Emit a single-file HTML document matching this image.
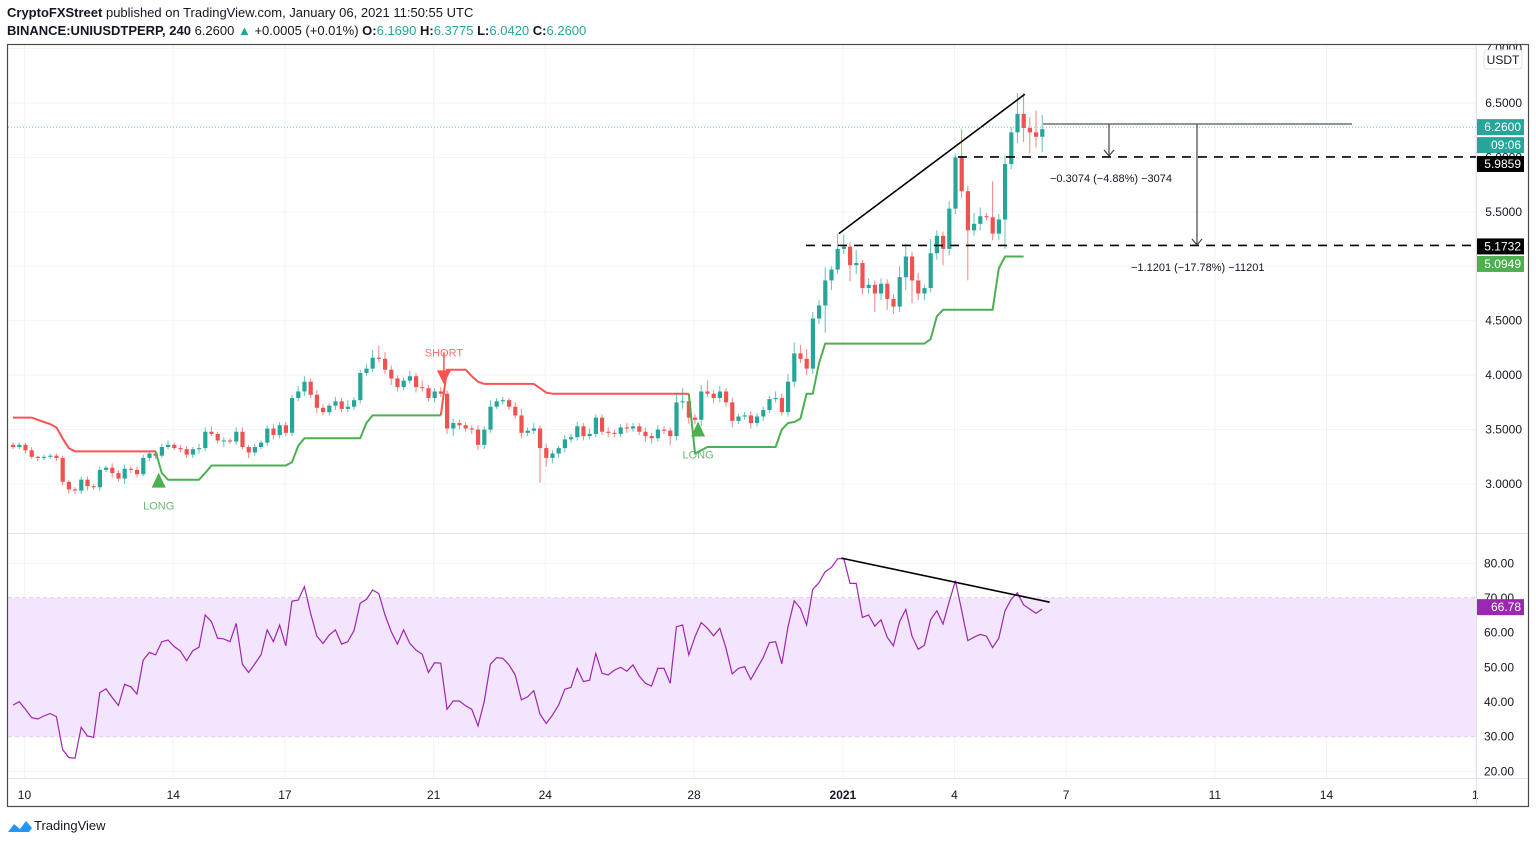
<!DOCTYPE html>
<html><head><meta charset="utf-8">
<style>
html,body{margin:0;padding:0;background:#fff;}
body{width:1536px;height:844px;overflow:hidden;font-family:"Liberation Sans",sans-serif;}
svg text{font-family:"Liberation Sans",sans-serif;}
</style></head>
<body>
<svg id="chart" width="1536" height="844" viewBox="0 0 1536 844" xmlns="http://www.w3.org/2000/svg">
  <text x="7" y="17" font-size="13" fill="#131722"><tspan font-weight="bold">CryptoFXStreet</tspan> published on TradingView.com, January 06, 2021 11:50:55 UTC</text>
  <text x="7" y="35" font-size="13" fill="#131722"><tspan font-weight="bold">BINANCE:UNIUSDTPERP, 240</tspan> 6.2600 <tspan fill="#26a69a">▲</tspan> +0.0005 (+0.01%) <tspan font-weight="bold">O:</tspan><tspan fill="#26a69a">6.1690</tspan> <tspan font-weight="bold">H:</tspan><tspan fill="#26a69a">6.3775</tspan> <tspan font-weight="bold">L:</tspan><tspan fill="#26a69a">6.0420</tspan> <tspan font-weight="bold">C:</tspan><tspan fill="#26a69a">6.2600</tspan></text>
  <g id="grid"></g>
  <rect id="rsiband" x="8" y="0" width="1468" height="0" fill="#f3e5fd"></rect>
  <g id="marks"></g>
  <g id="axes"></g>
  <rect x="7.5" y="44.5" width="1521" height="762" fill="none" stroke="#4a4a4a" stroke-width="1.2"></rect>
  <line x1="8" y1="533.5" x2="1528" y2="533.5" stroke="#e0e3eb"></line>
  <line x1="8" y1="778.5" x2="1528" y2="778.5" stroke="#e0e3eb"></line>
  <line x1="1476.5" y1="45" x2="1476.5" y2="806" stroke="#e0e3eb"></line>
  <g>
    <path d="M8 832 L14 824 L20 829 L26 821 L32 828 L29 832 Z" fill="#2196f3"></path>
    <text x="34" y="830" font-size="13" fill="#131722">TradingView</text>
  </g>
</svg>
<script>
// ---------- data ----------
const closes = [3.34,3.36,3.31,3.25,3.24,3.25,3.26,3.24,3.02,2.95,
2.94,3.04,2.98,2.97,3.13,3.15,3.10,3.05,3.14,3.13,
3.09,3.24,3.28,3.26,3.34,3.36,3.33,3.32,3.27,3.32,
3.33,3.48,3.46,3.40,3.40,3.39,3.48,3.34,3.29,3.34,
3.38,3.51,3.45,3.54,3.47,3.79,3.85,3.94,3.82,3.70,
3.66,3.72,3.76,3.69,3.71,3.77,4.02,4.06,4.16,4.15,
4.05,3.97,3.89,3.95,3.99,3.89,3.88,3.79,3.85,3.83,
3.51,3.56,3.54,3.51,3.50,3.36,3.50,3.71,3.76,3.77,
3.71,3.63,3.47,3.49,3.51,3.33,3.24,3.28,3.33,3.41,
3.43,3.53,3.44,3.46,3.61,3.48,3.47,3.46,3.52,3.51,
3.53,3.48,3.44,3.42,3.50,3.49,3.44,3.75,3.76,3.61,
3.59,3.85,3.83,3.79,3.85,3.75,3.58,3.62,3.63,3.56,
3.62,3.68,3.78,3.79,3.66,3.94,4.20,4.15,4.06,4.52,
4.64,4.87,4.97,5.16,5.18,5.01,5.03,4.80,4.83,4.75,
4.84,4.70,4.63,4.90,5.09,4.87,4.75,4.80,5.12,5.28,
5.16,5.53,6.00,5.69,5.33,5.39,5.46,5.45,5.30,5.43,
5.94,6.23,6.40,6.27,6.23,6.19,6.26];
const firstOpen = 3.36;
const wickUp = [2,2,2,3,1,2,2,2,2,2, 2,3,3,2,3,2,4,3,4,2, 3,3,2,3,3,4,2,3,3,2,
4,4,5,2,3,2,4,4,2,3, 2,3,4,3,3,3,5,5,3,4, 3,2,4,3,6,3,3,4,7,11,
6,4,3,3,5,3,6,3,3,4, 3,4,3,3,3,4,3,6,3,3, 2,4,6,3,5,3,4,3,2,4,
3,4,3,5,3,3,4,3,3,4, 3,3,4,3,4,3,3,9,12,4, 3,6,10,3,5,3,4,3,3,4,
3,3,3,6,4,7,10,8,9,6, 5,12,3,14,11,4,12,3,6,4, 5,4,4,10,12,4,7,3,13,5,
4,7,3,26,5,10,8,3,33,5, 8,5,19,19,10,20,13];
const wickDown = [2,2,3,2,3,2,2,3,3,4, 3,3,4,2,3,2,4,3,5,3, 3,2,3,3,2,2,2,3,3,3,
4,3,2,3,6,2,3,2,5,3, 2,3,4,3,3,3,3,4,3,5, 3,3,4,3,3,3,3,3,3,3,
4,6,4,3,3,5,3,3,4,3, 5,7,4,3,4,5,4,3,2,3, 3,3,5,3,3,32,8,5,4,4,
3,3,4,3,3,3,4,3,3,4, 3,3,5,5,3,3,8,4,6,6, 4,6,3,5,4,4,6,3,3,5,
3,4,3,3,3,4,5,4,6,5, 5,25,9,4,5,15,8,6,5,17, 6,10,7,5,12,21,6,6,4,6,
15,6,5,6,46,5,6,3,6,6, 27,5,10,13,19,10,14];
const stRed = [3.61,3.61,3.61,3.61,3.59,3.57,3.55,3.52,3.42,3.33,
3.30,3.30,3.30,3.30,3.30,3.30,3.30,3.30,3.30,3.30,3.30,3.30,3.30,3.30,
null,null,null,null,null,null,null,null,null,null,null,null,null,null,null,null,
null,null,null,null,null,null,null,null,null,null,null,null,null,null,null,null,
null,null,null,null,null,null,null,null,null,null,null,null,null,3.63,
4.05,4.05,4.05,4.05,3.99,3.94,3.92,3.92,3.92,3.92,3.92,3.92,3.92,3.92,3.92,3.88,3.84,
3.83,3.83,3.83,3.83,3.83,3.83,3.83,3.83,3.83,3.83,3.83,3.83,3.83,3.83,3.83,3.83,
3.83,3.83,3.83,3.83,3.83,3.83,3.83];
const stGreen = [null,null,null,null,null,null,null,null,null,null,
null,null,null,null,null,null,null,null,null,null,null,null,null,3.30,
3.10,3.04,3.04,3.04,3.04,3.04,3.04,3.10,3.17,3.17,3.17,3.17,3.17,3.17,3.17,3.17,
3.17,3.17,3.17,3.17,3.17,3.20,3.35,3.42,3.42,3.42,3.42,3.42,3.42,3.42,3.42,3.42,
3.42,3.56,3.63,3.63,3.63,3.63,3.63,3.63,3.63,3.63,3.63,3.63,3.63,3.63,
null,null,null,null,null,null,null,null,null,null,null,null,null,null,null,null,null,
null,null,null,null,null,null,null,null,null,null,null,null,null,null,null,null,
null,null,null,null,null,null,3.83,
3.28,3.31,3.34,3.34,3.34,3.34,3.34,3.34,3.34,3.34,3.34,3.34,3.34,3.34,3.50,3.56,3.57,3.60,
3.83,3.83,4.11,4.29,4.29,4.29,4.29,4.29,4.29,4.29,4.29,4.29,4.29,4.29,4.29,4.29,4.29,4.29,4.29,4.29,
4.33,4.54,4.60,4.60,4.60,4.60,4.60,4.60,4.60,4.60,4.60,4.98,5.09,5.09,5.09,5.09];
const rsi = [39.1,40.1,37.9,35.5,35.1,36.0,36.7,35.8,26.3,24.0,
23.8,32.7,30.2,29.8,42.7,43.8,41.3,39.0,45.1,44.4,
42.3,52.1,54.3,53.6,57.4,57.9,56.0,54.7,51.9,54.8,
55.8,65.1,63.2,58.4,58.2,57.4,62.7,50.9,48.5,51.0,
53.6,60.8,57.4,62.2,56.2,69.1,69.4,73.3,65.6,59.0,
56.9,59.3,60.8,56.7,57.4,60.6,68.5,69.6,72.3,71.3,
65.1,60.3,56.7,60.8,56.9,55.0,53.8,48.5,51.3,51.2,
37.9,40.3,40.3,38.9,37.9,33.1,40.1,50.9,52.8,52.6,
50.7,47.8,40.6,41.5,43.3,36.5,33.8,36.2,39.1,43.7,
44.2,49.7,45.9,46.3,54.0,48.3,47.8,49.2,50.0,48.9,
50.7,47.5,45.4,44.6,49.7,49.7,45.4,61.7,62.2,53.6,
58.8,62.9,61.3,59.1,61.3,55.5,48.1,49.7,50.2,46.5,
49.7,52.8,57.1,57.4,51.0,61.7,69.2,67.0,62.2,72.5,
74.4,77.6,78.8,81.3,81.4,74.2,74.2,64.4,65.1,61.9,
63.7,58.7,56.2,63.2,66.7,59.0,55.2,56.4,63.7,66.3,
62.5,68.9,75.0,66.5,57.7,58.7,59.5,59.0,55.7,58.4,
66.3,69.6,71.5,68.0,66.8,65.6,66.8];
const priceTicks = [3.0,3.5,4.0,4.5,5.0,5.5,6.0,6.5,7.0];
const priceTickLabels = ["3.0000","3.5000","4.0000","4.5000","5.0000","5.5000","6.0000","6.5000","7.0000"];
const rsiTicks = [20,30,40,50,60,70,80];
const dateTickIdx = [1.85,25.85,43.85,67.85,85.85,109.85,133.85,151.85,169.85,193.85,211.85,235.85];
const dateTickLabels = ["10","14","17","21","24","28","2021","4","7","11","14","1"];
const trendLine = [[133.2,5.30],[163.2,6.58]];
const rsiTrend = [[133.6,81.5],[167.2,68.8]];
const levelMid = 5.9859, levelLow = 5.1732, lastPrice = 6.26, stLast = 5.0949, rsiLast = 66.78;

// ---------- axes ----------
const NS="http://www.w3.org/2000/svg";
const xOf = i => 13 + i*6.2;
const yP = p => 103 + (6.5-p)*108.86;
const yR = r => 598 + (70-r)*3.467;
function mk(tag, attrs, parent){const e=document.createElementNS(NS,tag);for(const k in attrs)e.setAttribute(k,attrs[k]);(parent||document.getElementById('marks')).appendChild(e);return e;}
const grid=document.getElementById('grid'), axes=document.getElementById('axes'), marks=document.getElementById('marks');

dateTickIdx.forEach((d,k)=>{
  const x=xOf(d);
  const g=mk('line',{x1:x,y1:45,x2:x,y2:778,stroke:'#f0f3fa'},grid);
  
  
  const t=mk('text',{x:x,y:799,'font-size':12,'text-anchor':'middle',fill:'#131722','font-weight':dateTickLabels[k]==='2021'?'bold':'normal'},axes);
  t.textContent=dateTickLabels[k];
  
  
});
priceTicks.forEach((p,k)=>{
  const y=yP(p);
  const g=mk('line',{x1:8,y1:y,x2:1476,y2:y,stroke:'#f0f3fa'},grid);
  
  
  const t=mk('text',{x:1522,y:y+4,'font-size':12,'text-anchor':'end',fill:'#131722'},axes);
  t.textContent=priceTickLabels[k];
  
  
});
rsiTicks.forEach(r=>{
  const y=yR(r);
  if(r!==30&&r!==70){const g=mk('line',{x1:8,y1:y,x2:1476,y2:y,stroke:'#f0f3fa'},grid);
  
  }
  const t=mk('text',{x:1514,y:y+4,'font-size':12,'text-anchor':'end',fill:'#131722'},axes);
  t.textContent=r.toFixed(2);
  
  
});
const band=document.getElementById('rsiband');
band.setAttribute('y',yR(70)); band.setAttribute('height',yR(30)-yR(70));
[30,70].forEach(r=>{const l=mk('line',{x1:8,y1:yR(r),x2:1476,y2:yR(r),stroke:'#c9a6d6','stroke-dasharray':'4,3'},grid);

});

// ---------- candles ----------
closes.forEach((c,i)=>{
  const o = i===0?firstOpen:closes[i-1];
  const up=c>=o, col=up?'#26a69a':'#ef5350';
  const hi=Math.max(o,c)+wickUp[i]/100, lo=Math.min(o,c)-wickDown[i]/100;
  const x=xOf(i);
  const w=mk('line',{x1:x,y1:yP(hi),x2:x,y2:yP(lo),stroke:col,'stroke-width':1,opacity:0.7});
  
  
  const top=yP(Math.max(o,c)), h=Math.max(1,yP(Math.min(o,c))-top);
  const b=mk('rect',{x:x-2,y:top,width:4.2,height:h,fill:col});
  
  
});

// ---------- supertrend ----------
function series(arr,col,name){
  let d='',pen=false;
  arr.forEach((v,i)=>{ if(v==null){pen=false;return;} d+=(pen?'L':'M')+xOf(i).toFixed(1)+' '+yP(v).toFixed(1)+' '; pen=true;});
  const p=mk('path',{d:d,fill:'none',stroke:col,'stroke-width':2,'stroke-linejoin':'round'});
  
  
}
series(stRed,'#ff5252','supertrend-down-line');
series(stGreen,'#4caf50','supertrend-up-line');

function signal(i,price,dir,label,col){
  const x=xOf(i), y=yP(price);
  const pts = dir==='up' ? `${x-7},${y+8} ${x+7},${y+8} ${x},${y-7}` : `${x-7},${y-7} ${x+7},${y-7} ${x},${y+7}`;
  const t=mk('polygon',{points:pts,fill:col});
  
  
  const tx=mk('text',{x:x,y:dir==='up'?y+30:y-21,'font-size':11,'text-anchor':'middle',fill:col,opacity:0.85});
  tx.textContent=label;
  
  
}
signal(23.5,3.04,'up','LONG','#4caf50');
signal(69.5,3.98,'down','SHORT','#ff5252');
mk('line',{x1:xOf(69.5),y1:yP(3.98),x2:xOf(69.5),y2:yP(4.21),stroke:'#ff5252','stroke-width':1.5});
signal(110.5,3.51,'up','LONG','#4caf50');

// ---------- annotations ----------
const tl=mk('line',{x1:xOf(trendLine[0][0]),y1:yP(trendLine[0][1]),x2:xOf(trendLine[1][0]),y2:yP(trendLine[1][1]),stroke:'#000','stroke-width':1.6});


const lp=mk('line',{x1:8,y1:yP(lastPrice)-2,x2:1476,y2:yP(lastPrice)-2,stroke:'#26a69a','stroke-dasharray':'1,2','stroke-width':1,opacity:0.7});


const d1=mk('line',{x1:958,y1:yP(levelMid)-2,x2:1476,y2:yP(levelMid)-2,stroke:'#000','stroke-width':1.6,'stroke-dasharray':'9,7'});


const d2=mk('line',{x1:806,y1:yP(levelLow)-2,x2:1476,y2:yP(levelLow)-2,stroke:'#000','stroke-width':1.6,'stroke-dasharray':'9,7'});


const ref=mk('line',{x1:1043,y1:124,x2:1352,y2:124,stroke:'#555','stroke-width':1.3});


function arrow(x,y1,y2,name){
  const a=mk('path',{d:`M${x} ${y1} L${x} ${y2} M${x-5} ${y2-6} L${x} ${y2} L${x+5} ${y2-6}`,stroke:'#444',fill:'none','stroke-width':1.2});
  
  
}
arrow(1109,124,156,'measure-arrow-1');
arrow(1197,124,245,'measure-arrow-2');
let t1=mk('text',{x:1050,y:182,'font-size':11,fill:'#131722'}); t1.textContent='−0.3074 (−4.88%) −3074';


let t2=mk('text',{x:1131,y:271,'font-size':11,fill:'#131722'}); t2.textContent='−1.1201 (−17.78%) −11201';



let rd='';
rsi.forEach((v,i)=>{rd+=(i?'L':'M')+xOf(i).toFixed(1)+' '+yR(v).toFixed(1)+' ';});
const rl=mk('path',{d:rd,fill:'none',stroke:'#9c27b0','stroke-width':1.2});


const rt=mk('line',{x1:xOf(rsiTrend[0][0]),y1:yR(rsiTrend[0][1]),x2:xOf(rsiTrend[1][0]),y2:yR(rsiTrend[1][1]),stroke:'#000','stroke-width':1.6});



function tag(y,h,bg,fg,txt,name){
  const r=mk('rect',{x:1477,y:y,width:47,height:h,fill:bg},axes);
  
  
  const t=mk('text',{x:1521,y:y+h-4,'font-size':12,'text-anchor':'end',fill:fg},axes);
  t.textContent=txt;
  
  
}
tag(yP(lastPrice)-10,16,'#26a69a','#fff','6.2600','last-price-tag');
tag(yP(lastPrice)+8,16,'#26a69a','#fff','09:06','countdown-tag');
tag(yP(levelMid)-3,16,'#000','#fff','5.9859','level-1-tag');
tag(yP(levelLow)-9,16,'#000','#fff','5.1732','level-2-tag');
tag(yP(stLast)-0,16,'#4caf50','#fff','5.0949','supertrend-tag');
tag(yR(rsiLast)-10,16,'#9c27b0','#fff','66.78','rsi-value-tag');
const ub=mk('rect',{x:1484,y:50,width:38,height:19,rx:3,fill:'#fff',stroke:'#e0e3eb'},axes);


const ut=mk('text',{x:1503,y:64,'font-size':12,'text-anchor':'middle',fill:'#131722'},axes);
ut.textContent='USDT';


</script>
</body></html>
